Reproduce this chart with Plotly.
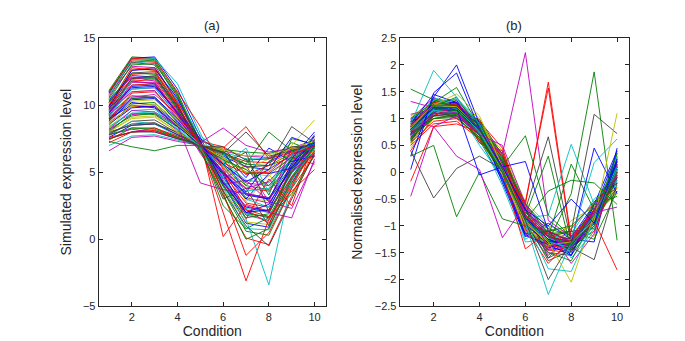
import plotly.graph_objects as go

conditions = [1, 2, 3, 4, 5, 6, 7, 8, 9, 10]

# Panel (a): simulated expression profiles
sim_profiles = [
    [11.1, 13.6, 13.5, 10.9, 7.3, 3.6, 0.6, 0.3, 3.8, 7.1],
    [10.9, 13.5, 13.6, 11.2, 7.6, 4.1, 1.2, 0.9, 4.2, 7.0],
    [10.6, 13.3, 13.2, 10.6, 7.1, 3.2, 0.1, -0.4, 3.2, 6.6],
    [10.3, 13.1, 13.3, 10.4, 7.0, 3.9, 0.8, 0.7, 3.9, 6.9],
    [10.8, 12.9, 12.8, 10.3, 7.2, 4.4, 1.8, 1.4, 4.6, 7.2],
    [10.1, 12.7, 12.6, 10.1, 6.9, 3.7, 1.3, 1.1, 4.1, 6.7],
    [9.7, 12.4, 12.5, 9.9, 7.0, 4.3, 2.0, 1.6, 4.4, 7.0],
    [10.4, 12.2, 12.1, 9.8, 7.1, 4.6, 2.4, 2.1, 5.0, 7.3],
    [9.4, 12.0, 12.0, 9.7, 6.8, 4.0, 1.9, 1.7, 4.7, 6.8],
    [9.9, 11.8, 11.9, 9.6, 7.0, 4.9, 2.7, 2.4, 5.1, 7.0],
    [9.1, 11.5, 11.6, 9.5, 6.9, 4.4, 2.3, 2.0, 4.9, 6.9],
    [9.6, 11.2, 11.3, 9.3, 7.0, 5.1, 3.1, 2.7, 5.3, 7.1],
    [9.0, 11.0, 11.1, 9.1, 6.8, 4.7, 3.0, 2.9, 5.4, 7.0],
    [9.3, 10.7, 10.6, 8.9, 7.0, 5.3, 3.4, 3.1, 5.5, 6.9],
    [8.8, 10.4, 10.5, 8.8, 6.9, 4.9, 3.3, 3.0, 5.2, 7.0],
    [8.5, 10.1, 10.2, 8.6, 7.0, 5.5, 4.0, 3.7, 5.8, 7.1],
    [8.7, 9.9, 9.9, 8.4, 7.1, 5.4, 3.8, 3.6, 5.6, 7.0],
    [8.3, 9.6, 9.7, 8.3, 7.0, 5.8, 4.4, 4.2, 6.0, 7.0],
    [8.1, 9.3, 9.4, 8.1, 6.9, 5.6, 4.2, 4.0, 5.9, 6.9],
    [8.0, 9.1, 9.2, 8.0, 7.0, 6.0, 5.0, 4.7, 6.2, 7.1],
    [7.8, 8.8, 8.9, 7.9, 7.0, 6.1, 5.0, 4.9, 6.1, 7.0],
    [7.6, 8.5, 8.6, 7.8, 7.0, 6.2, 5.4, 5.2, 6.3, 7.0],
    [7.4, 8.3, 8.3, 7.6, 7.0, 6.3, 5.6, 5.5, 6.4, 6.9],
    [7.2, 8.0, 8.1, 7.5, 7.0, 6.4, 5.8, 5.7, 6.5, 7.0],
    [7.0, 7.7, 7.8, 7.4, 7.0, 6.5, 6.0, 6.0, 6.6, 7.0],
    [6.6, 7.6, 7.7, 7.3, 7.0, 6.6, 6.2, 6.1, 6.7, 7.0],
    [7.3, 6.9, 6.6, 7.0, 7.0, 6.7, 6.5, 6.4, 6.8, 7.0],
    [8.9, 10.2, 10.0, 8.6, 6.8, 6.0, 3.5, 5.8, 6.6, 7.2],
    [9.6, 11.8, 11.6, 9.4, 7.2, 5.6, 6.5, 2.0, 5.0, 6.8],
    [8.2, 9.2, 9.4, 8.4, 7.4, 6.6, 4.0, 5.8, 7.2, 6.6],
    [10.0, 12.8, 12.6, 10.0, 6.5, 5.0, 1.5, 4.5, 2.5, 7.5],
    [7.7, 8.8, 8.6, 7.7, 7.1, 5.5, 6.8, 3.5, 6.0, 6.9],
    [9.1, 10.6, 10.8, 9.3, 7.3, 4.5, 5.5, 2.8, 6.8, 7.4],
    [8.3, 9.9, 10.1, 8.9, 6.9, 6.2, 2.8, 4.8, 3.2, 6.5],
    [10.9, 13.2, 13.0, 10.1, 6.7, 3.0, 3.8, 1.0, 5.5, 7.8],
    [9.8, 11.3, 11.4, 9.5, 7.5, 6.4, 4.6, 6.8, 5.8, 6.2],
    [8.0, 9.4, 9.3, 8.2, 6.6, 4.9, 6.0, 3.3, 7.5, 7.1],
    [7.6, 8.0, 8.3, 7.7, 7.3, 6.9, 4.8, 5.5, 6.1, 5.6],
    [9.3, 11.9, 12.1, 10.4, 7.7, 6.5, 3.0, 2.4, 6.3, 7.6],
    [10.3, 12.1, 11.8, 9.3, 6.4, 4.1, 4.4, 2.8, 2.3, 5.8],
    [8.7, 10.3, 10.4, 8.9, 7.0, 6.6, 5.2, 6.0, 6.8, 6.7],
    [11.0, 13.4, 13.3, 10.8, 7.0, 2.5, 0.8, 1.6, 3.4, 6.3],
    [9.0, 10.0, 9.8, 8.4, 7.1, 5.0, 3.0, 4.9, 5.3, 7.7],
    [10.7, 13.4, 13.5, 11.6, 7.9, 4.6, 1.9, 1.4, 4.4, 7.1],
    [11.0, 13.5, 13.4, 11.0, 8.4, 5.2, 2.2, 1.2, 4.0, 7.0],
    [9.8, 12.6, 12.8, 10.2, 7.4, 0.2, 2.6, 2.1, 4.6, 6.4],
    [10.2, 12.3, 12.4, 10.0, 7.1, 3.5, -1.2, 0.5, 3.8, 6.2],
    [9.5, 11.5, 11.6, 9.4, 6.9, 2.0, -3.1, 1.5, 4.2, 6.6],
    [9.2, 11.2, 11.3, 9.2, 6.8, 4.0, 1.5, -3.4, 4.4, 6.8],
    [7.8, 8.2, 8.0, 7.5, 7.2, 8.3, 7.0, 6.5, 6.8, 7.0],
    [7.5, 8.0, 8.1, 7.6, 7.0, 6.8, 8.4, 6.0, 6.5, 7.0],
    [8.0, 8.5, 8.6, 8.0, 7.0, 6.4, 8.0, 6.2, 6.6, 7.1],
    [7.8, 8.3, 8.2, 7.6, 7.0, 6.5, 5.6, 8.0, 6.6, 7.0],
    [7.5, 8.0, 8.0, 7.5, 7.0, 6.5, 5.4, 5.5, 8.4, 7.2],
    [8.0, 9.0, 9.1, 8.0, 7.0, 6.0, 5.0, 5.1, 7.0, 8.9],
    [9.0, 10.5, 10.6, 9.0, 7.0, 5.0, 3.4, 3.0, 6.0, 8.0],
    [8.6, 9.8, 9.9, 8.5, 7.0, 5.6, 4.3, 5.2, 7.6, 7.0],
    [9.5, 11.0, 11.1, 9.0, 7.0, 4.2, 2.5, 2.0, 1.6, 6.0],
    [10.0, 12.0, 12.1, 10.0, 7.0, 4.0, 2.2, 1.7, 3.6, 5.2],
    [8.2, 9.6, 9.5, 8.5, 4.2, 3.7, 3.4, 3.1, 5.0, 6.5],
    [10.2, 12.4, 12.3, 9.7, 6.6, 3.3, 0.0, 0.8, 4.5, 7.0],
    [9.7, 12.0, 12.2, 9.9, 7.2, 3.6, 1.0, -0.5, 3.0, 6.4],
    [9.4, 11.4, 11.5, 9.4, 7.0, 4.8, 2.0, 2.2, 5.7, 7.2],
    [8.9, 10.5, 10.6, 8.7, 7.0, 5.9, 5.2, 4.0, 6.0, 6.8],
    [8.4, 9.4, 9.5, 8.2, 6.9, 5.3, 3.6, 3.8, 6.4, 7.1],
    [8.6, 10.0, 10.0, 8.5, 7.1, 6.7, 6.2, 6.3, 6.8, 7.3],
    [7.9, 8.6, 8.7, 7.8, 6.9, 6.9, 5.9, 6.0, 6.9, 7.0],
    [9.9, 12.6, 12.7, 10.5, 7.3, 4.2, 2.0, 2.6, 5.4, 7.1],
    [10.5, 13.0, 13.1, 10.7, 7.1, 4.0, 1.6, 1.9, 5.2, 7.4],
    [9.2, 11.7, 11.7, 9.5, 7.0, 5.0, 3.8, 4.3, 6.2, 7.0],
    [8.8, 10.9, 11.0, 9.2, 7.1, 5.7, 4.9, 5.0, 6.4, 6.9],
]
sim_color_keys = ("gbrcmykbgrcmykbgrcmykbgrcmg"
                  "bkgrcmykbgrcmygb"
                  "crrrrcmrkgkybbmrmgkbgcykbgmr")

# Panel (b): normalised expression profiles
norm_profiles = [
    [0.85, 1.28, 1.25, 0.82, 0.05, -0.95, -1.32, -1.38, -0.82, 0.02],
    [0.80, 1.22, 1.20, 0.78, 0.00, -1.00, -1.28, -1.35, -0.78, -0.05],
    [0.90, 1.32, 1.30, 0.88, 0.10, -0.90, -1.35, -1.40, -0.88, 0.10],
    [0.75, 1.20, 1.18, 0.85, 0.12, -0.85, -1.25, -1.30, -0.75, -0.10],
    [0.70, 1.18, 1.22, 0.90, 0.15, -0.80, -1.20, -1.32, -0.85, -0.15],
    [0.95, 1.35, 1.32, 0.80, 0.02, -1.05, -1.38, -1.42, -0.90, 0.15],
    [0.82, 1.25, 1.28, 0.92, 0.20, -0.75, -1.18, -1.25, -0.70, -0.20],
    [0.65, 1.15, 1.15, 0.75, 0.05, -0.90, -1.30, -1.45, -0.95, 0.05],
    [0.88, 1.30, 1.22, 0.70, -0.05, -1.10, -1.40, -1.30, -0.72, 0.20],
    [0.78, 1.26, 1.30, 0.86, 0.08, -0.98, -1.45, -1.50, -0.80, 0.25],
    [0.60, 1.10, 1.12, 0.80, 0.25, -0.70, -1.15, -1.28, -0.78, -0.25],
    [0.92, 1.27, 1.18, 0.72, -0.08, -1.15, -1.42, -1.28, -0.65, 0.08],
    [0.72, 1.22, 1.26, 0.95, 0.30, -0.65, -1.10, -1.22, -0.90, -0.30],
    [0.85, 1.32, 1.35, 0.88, 0.02, -1.00, -1.50, -1.55, -0.95, 0.30],
    [0.98, 1.25, 1.15, 0.68, -0.10, -1.08, -1.30, -1.22, -0.60, 0.00],
    [0.55, 1.05, 1.10, 0.85, 0.35, -0.60, -1.05, -1.18, -0.85, -0.35],
    [0.80, 1.20, 1.25, 0.90, 0.12, -0.92, -1.35, -1.45, -1.00, 0.12],
    [0.68, 1.12, 1.20, 0.95, 0.22, -0.78, -1.22, -1.35, -0.92, -0.18],
    [1.00, 1.38, 1.28, 0.75, -0.02, -1.12, -1.45, -1.40, -0.70, 0.18],
    [0.45, 1.00, 1.08, 0.88, 0.40, -0.55, -1.00, -1.15, -0.80, -0.40],
    [0.76, 1.24, 1.22, 0.82, 0.06, -0.96, -1.30, -1.36, -0.84, -0.02],
    [0.88, 1.28, 1.30, 0.85, 0.00, -1.02, -1.40, -1.48, -0.86, 0.22],
    [0.62, 1.14, 1.18, 0.90, 0.18, -0.82, -1.26, -1.30, -0.76, -0.12],
    [0.84, 1.30, 1.20, 0.78, 0.04, -0.94, -1.34, -1.40, -0.88, 0.06],
    [0.93, 1.36, 1.32, 0.86, 0.08, -0.88, -1.28, -1.33, -0.82, 0.12],
    [0.70, 1.16, 1.24, 0.86, 0.14, -0.86, -1.20, -1.40, -0.96, -0.08],
    [1.05, 1.30, 1.18, 0.74, -0.04, -1.06, -1.36, -1.30, -0.68, 0.04],
    [0.58, 1.08, 1.14, 0.92, 0.28, -0.72, -1.12, -1.26, -0.88, -0.28],
    [0.82, 1.26, 1.24, 0.80, 0.10, -0.96, -1.32, -1.42, -0.90, 0.14],
    [0.95, 1.10, 1.35, 0.60, -0.15, -1.15, -1.10, -1.55, -0.70, 0.35],
    [0.62, 1.30, 1.05, 0.95, 0.25, -0.95, -1.60, -1.10, -1.05, -0.10],
    [0.88, 1.05, 1.25, 0.70, 0.30, -0.65, -1.45, -1.05, -0.55, -0.30],
    [0.70, 1.40, 1.20, 0.50, -0.10, -1.25, -1.00, -1.60, -1.10, 0.40],
    [1.08, 1.18, 1.00, 0.85, 0.00, -0.80, -1.55, -1.20, -0.95, 0.15],
    [0.50, 1.25, 1.35, 1.00, 0.10, -1.10, -1.25, -1.00, -1.20, 0.30],
    [0.85, 1.15, 1.28, 0.55, 0.20, -0.90, -1.65, -1.45, -0.55, -0.20],
    [0.72, 1.30, 1.15, 0.90, -0.20, -1.20, -0.95, -1.25, -1.30, 0.45],
    [0.95, 1.22, 1.40, 0.78, 0.05, -0.70, -1.50, -1.65, -0.85, 0.35],
    [0.40, 1.05, 1.25, 0.95, 0.45, -0.85, -1.15, -1.35, -1.10, 0.00],
    [0.80, 1.35, 1.10, 0.65, -0.25, -1.30, -1.25, -1.15, -0.50, -0.15],
    [0.66, 1.12, 1.30, 0.85, 0.15, -0.75, -1.05, -1.70, -1.15, 0.25],
    [1.02, 1.28, 1.22, 0.60, -0.05, -1.00, -1.40, -0.90, -0.65, -0.30],
    [0.58, 1.20, 1.15, 0.98, 0.32, -0.68, -1.60, -1.38, -0.95, -0.05],
    [0.90, 1.45, 1.30, 0.75, -0.12, -1.18, -1.35, -1.55, -0.60, 0.40],
    [0.75, 1.00, 1.08, 0.80, 0.22, -0.58, -1.15, -1.10, -1.25, -0.35],
    [0.85, 1.30, 1.25, 0.55, 0.40, -1.05, -1.70, -1.25, -0.75, 0.15],
    [0.68, 1.18, 1.38, 0.88, -0.02, -0.92, -1.20, -1.50, -1.05, 0.28],
    [0.75, 1.10, 1.05, 0.70, 0.35, 2.23, -0.90, -1.20, -0.70, -0.10],
    [0.55, 0.95, 1.00, 0.65, 0.00, -0.60, 1.68, -1.25, -0.75, -0.05],
    [0.50, 0.90, 0.95, 0.62, 0.05, -0.55, 1.57, -1.30, -0.80, 0.00],
    [0.70, 1.05, 1.10, 0.70, 0.05, -0.70, 0.66, -1.30, -0.90, 0.20],
    [0.65, 1.00, 1.05, 0.60, 0.00, -0.80, 0.30, -1.45, -1.00, 0.05],
    [0.80, 1.15, 1.10, 0.70, 0.00, -0.85, -0.80, 0.52, -0.60, 0.10],
    [0.78, 1.10, 1.08, 0.72, 0.00, -0.80, -1.20, 0.15, -0.70, 0.00],
    [0.70, 1.00, 1.02, 0.65, 0.00, -0.90, -1.30, -0.40, 1.87, -1.27],
    [0.72, 1.05, 1.05, 0.70, 0.00, -0.90, -1.20, -1.10, 1.08, 0.72],
    [0.80, 1.20, 1.15, 0.75, 0.05, -0.95, -1.35, -1.30, 0.45, -0.40],
    [0.75, 1.15, 1.12, 0.72, 0.02, -0.90, -1.30, -1.25, 0.18, 0.62],
    [0.60, 1.10, 1.10, 0.70, 0.00, -0.85, -1.25, -1.40, -1.63, -0.20],
    [1.55, 1.35, 1.22, 0.80, 0.00, -0.90, -1.30, -1.35, -0.60, -0.45],
    [1.32, 1.20, 1.10, 0.75, 0.00, -0.95, -1.30, -1.30, -0.75, -0.65],
    [-0.45, 0.85, 1.05, 0.80, 0.10, -0.80, -1.20, -1.30, -0.80, 0.10],
    [-0.17, 0.85, 0.90, 0.75, 0.10, -0.80, -1.20, -1.30, -0.70, 0.00],
    [0.05, 1.48, 1.85, 0.80, 0.00, -0.85, -1.25, -1.40, -0.90, 0.25],
    [0.30, 1.40, 2.00, 0.90, 0.00, -0.90, -1.30, -1.30, -0.80, 0.00],
    [0.90, 1.90, 1.40, 0.90, 0.00, -0.90, -1.30, -1.40, -0.80, 0.10],
    [1.00, 1.30, 1.58, 0.85, 0.00, -0.90, -1.20, -1.35, -0.90, 0.00],
    [0.30, 0.50, -0.83, 0.00, -0.87, -1.00, -1.10, -1.00, -0.60, 0.10],
    [0.40, -0.48, 0.07, 0.30, 0.05, -0.70, -1.20, -1.30, -0.80, -0.10],
    [0.95, 0.85, 0.30, 0.05, -1.22, -0.60, -1.20, -1.40, -0.90, 0.05],
    [0.85, 1.25, 1.20, -0.05, 0.10, 0.20, -1.10, -1.30, -0.90, 0.10],
    [0.80, 1.20, 1.15, 0.70, 0.10, 0.68, -0.80, -1.20, -0.70, 0.00],
    [0.75, 1.20, 1.25, 0.80, 0.00, -1.43, -1.10, -1.30, -0.90, -1.82],
    [0.80, 1.25, 1.20, 0.75, 0.05, -0.95, -2.28, -1.30, -0.80, 0.10],
    [0.85, 1.25, 1.22, 0.80, 0.02, -0.95, -1.30, -2.05, -0.80, 0.00],
    [0.78, 1.20, 1.20, 0.75, 0.00, -0.90, -1.80, -1.85, -0.90, 0.05],
    [0.82, 1.25, 1.46, 1.05, 0.10, -0.90, -1.35, -1.30, -0.90, 1.10],
    [0.80, 1.20, 1.15, 0.70, 0.00, -0.90, -0.35, -0.15, -0.20, -0.60],
    [0.70, 1.10, 1.10, 0.70, 0.50, -0.60, -1.40, -1.20, -0.70, -0.05],
    [0.80, 1.20, 1.20, 0.80, 0.10, -0.70, -1.00, -0.50, -0.95, 0.20],
    [0.80, 1.25, 1.25, 0.80, 0.05, -0.90, -2.00, -1.30, -0.80, 0.00],
]
norm_color_keys = ("bgrcmykbgrcmykbgrcmykbgrcmykb"
                   "bgrcmykbgrcmykbgrc"
                   "mrrkgcggkbckgmmrbbcggkmbgrcycygmbk")

palette = {
    "b": "#0000ff", "g": "#008000", "r": "#ff0000", "c": "#00bfbf",
    "m": "#bf00bf", "y": "#bfbf00", "k": "#404040",
}

fig = go.Figure()
for i, prof in enumerate(sim_profiles):
    fig.add_trace(go.Scatter(
        x=conditions, y=prof, mode="lines", xaxis="x", yaxis="y",
        line=dict(color=palette[sim_color_keys[i % len(sim_color_keys)]], width=0.9),
        showlegend=False, hoverinfo="skip"))
for i, prof in enumerate(norm_profiles):
    fig.add_trace(go.Scatter(
        x=conditions, y=prof, mode="lines", xaxis="x2", yaxis="y2",
        line=dict(color=palette[norm_color_keys[i % len(norm_color_keys)]], width=0.9),
        showlegend=False, hoverinfo="skip"))

font_family = "Liberation Sans, Arial, sans-serif"
axis_common = dict(
    showline=True, linecolor="#262626", linewidth=1, mirror="ticks",
    ticks="inside", ticklen=4, tickcolor="#262626", showgrid=False, zeroline=False,
    tickfont=dict(size=11, color="#262626", family=font_family),
)

fig.update_layout(
    width=685, height=341,
    margin=dict(l=0, r=0, t=0, b=0),
    paper_bgcolor="white", plot_bgcolor="white",
    font=dict(family=font_family, color="#262626"),
    xaxis=dict(domain=[0.1324, 0.4642], range=[0.55, 10.5], tickvals=[2, 4, 6, 8, 10],
               title=dict(text="Condition", font=dict(size=14), standoff=4), anchor="y",
               **axis_common),
    yaxis=dict(domain=[0.1114, 0.9267], range=[-5, 15], tickvals=[-5, 0, 5, 10, 15],
               title=dict(text="Simulated expression level", font=dict(size=14), standoff=8),
               anchor="x", **axis_common),
    xaxis2=dict(domain=[0.5718, 0.9066], range=[0.52, 10.52], tickvals=[2, 4, 6, 8, 10],
                title=dict(text="Condition", font=dict(size=14), standoff=4), anchor="y2",
                **axis_common),
    yaxis2=dict(domain=[0.1114, 0.9267], range=[-2.5, 2.5],
                tickvals=[-2.5, -2, -1.5, -1, -0.5, 0, 0.5, 1, 1.5, 2, 2.5],
                ticktext=["−2.5", "−2", "−1.5", "−1", "−0.5", "0", "0.5", "1", "1.5", "2", "2.5"],
                title=dict(text="Normalised expression level", font=dict(size=14), standoff=8),
                anchor="x2", **axis_common),
    annotations=[
        dict(text="(a)", x=(0.1324 + 0.4642) / 2, y=0.9267, xref="paper", yref="paper",
             xanchor="center", yanchor="bottom", yshift=3, showarrow=False,
             font=dict(size=13, color="#262626")),
        dict(text="(b)", x=(0.5718 + 0.9066) / 2, y=0.9267, xref="paper", yref="paper",
             xanchor="center", yanchor="bottom", yshift=3, showarrow=False,
             font=dict(size=13, color="#262626")),
    ],
)

fig.write_html("out.html")
